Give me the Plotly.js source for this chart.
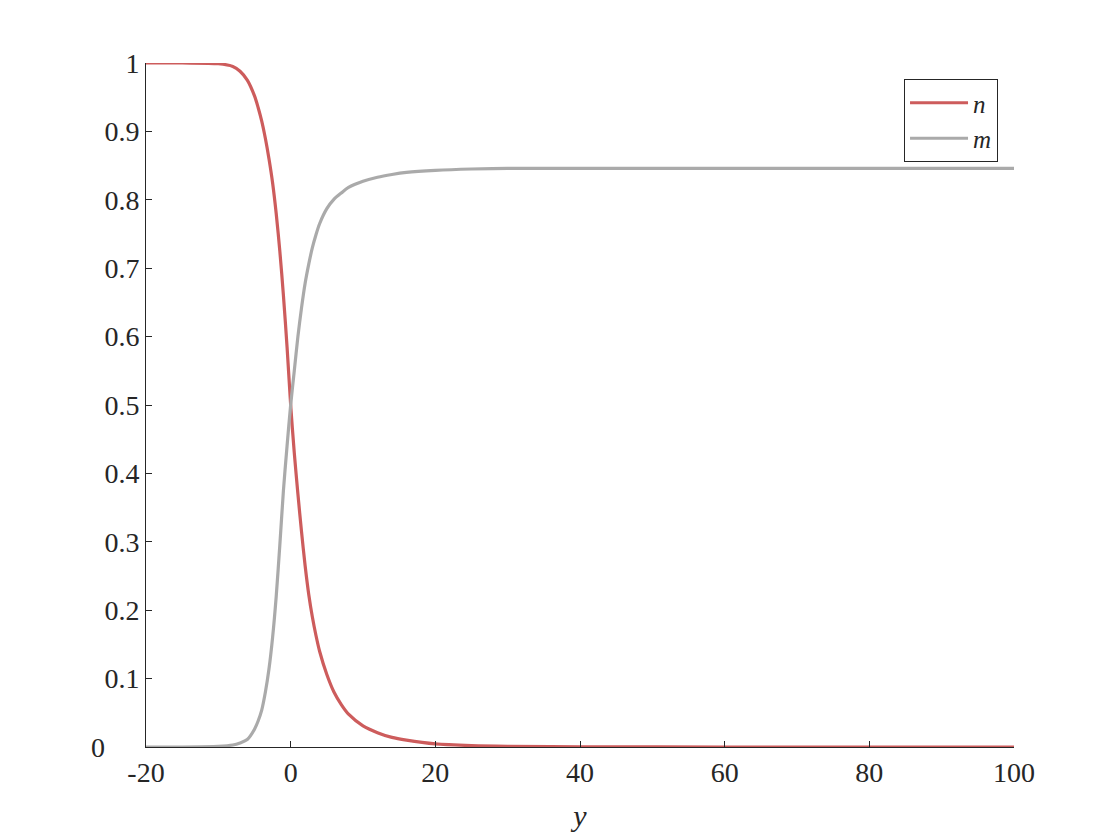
<!DOCTYPE html>
<html>
<head>
<meta charset="utf-8">
<script src="https://cdn.plot.ly/plotly-3.0.1.min.js"></script>
<style>html,body{margin:0;padding:0;background:#fff;}</style>
</head>
<body>
<div id="chart" style="width:1120px;height:840px;"></div>
<script>
const yPos = [-20, -15, -10, -8, -7, -6, -5, -4.5, -4, -3.5, -3, -2.5, -2, -1.5, -1, -0.5, 0, 0.5, 1, 1.5, 2, 2.5, 3, 3.5, 4, 5, 6, 7, 8, 10, 12, 14, 16, 20, 25, 30, 40, 60, 80, 100];
const nVals = [1, 1, 0.999, 0.995, 0.988, 0.975, 0.952, 0.935, 0.915, 0.89, 0.86, 0.825, 0.78, 0.725, 0.66, 0.585, 0.5, 0.43, 0.37, 0.315, 0.265, 0.223, 0.19, 0.163, 0.14, 0.106, 0.08, 0.062, 0.048, 0.031, 0.021, 0.014, 0.010, 0.0045, 0.002, 0.001, 0.0003, 0, 0, 0];
const mVals = [0, 0, 0.001, 0.003, 0.006, 0.011, 0.026, 0.038, 0.054, 0.08, 0.114, 0.16, 0.22, 0.295, 0.375, 0.44, 0.5, 0.55, 0.6, 0.642, 0.678, 0.706, 0.73, 0.749, 0.765, 0.787, 0.801, 0.81, 0.818, 0.827, 0.833, 0.837, 0.84, 0.843, 0.845, 0.846, 0.846, 0.846, 0.846, 0.846];
const seriesNames = ['n', 'm'];
const xTicks = [-20, 0, 20, 40, 60, 80, 100];
const yTicks = [0, 0.1, 0.2, 0.3, 0.4, 0.5, 0.6, 0.7, 0.8, 0.9, 1];

const font = '"Liberation Serif", "DejaVu Serif", serif';
const txt = '#262626';

const traces = [
  {x: yPos, y: nVals, name: '<i>' + seriesNames[0] + '</i>', type: 'scatter', mode: 'lines',
   line: {color: '#CD5C5C', width: 3.2, shape: 'spline', smoothing: 0.8}},
  {x: yPos, y: mVals, name: '<i>' + seriesNames[1] + '</i>', type: 'scatter', mode: 'lines',
   line: {color: '#AAAAAA', width: 3.2, shape: 'spline', smoothing: 0.8}}
];

// the y tick label at 0 is drawn as an annotation, nudged left like the reference
const yTickText = yTicks.map(v => v === 0 ? '' : String(v));

const layout = {
  width: 1120, height: 840,
  margin: {l: 146, r: 106, t: 63, b: 93},
  paper_bgcolor: '#fff', plot_bgcolor: '#fff',
  font: {family: font, size: 28, color: txt},
  showlegend: true,
  legend: {
    x: 0.9816, y: 0.9766, xanchor: 'right', yanchor: 'top',
    bordercolor: '#262626', borderwidth: 1, bgcolor: '#fff',
    itemwidth: 58, tracegroupgap: 0,
    font: {family: font, size: 25, color: txt}
  },
  xaxis: {
    range: [-20, 100], tickvals: xTicks, ticktext: xTicks.map(String),
    ticks: 'inside', ticklen: 6, tickcolor: txt, tickwidth: 1,
    showline: true, linecolor: txt, linewidth: 1, mirror: false,
    showgrid: false, zeroline: false,
    tickfont: {family: font, size: 28, color: txt},
    title: {text: '<i>y</i>', font: {family: font, size: 30, color: txt}, standoff: 18}
  },
  yaxis: {
    range: [0, 1], tickvals: yTicks, ticktext: yTickText,
    ticks: 'inside', ticklen: 6, tickcolor: txt, tickwidth: 1,
    showline: true, linecolor: txt, linewidth: 1, mirror: false,
    showgrid: false, zeroline: false,
    tickfont: {family: font, size: 28, color: txt},
    ticklabelstandoff: 0
  },
  annotations: [{
    text: String(yTicks[0]), xref: 'paper', yref: 'y', x: -0.045, y: yTicks[0],
    xanchor: 'right', yanchor: 'middle', showarrow: false,
    font: {family: font, size: 28, color: txt}
  }]
};

Plotly.newPlot('chart', traces, layout, {displayModeBar: false, staticPlot: true});
</script>
</body>
</html>
